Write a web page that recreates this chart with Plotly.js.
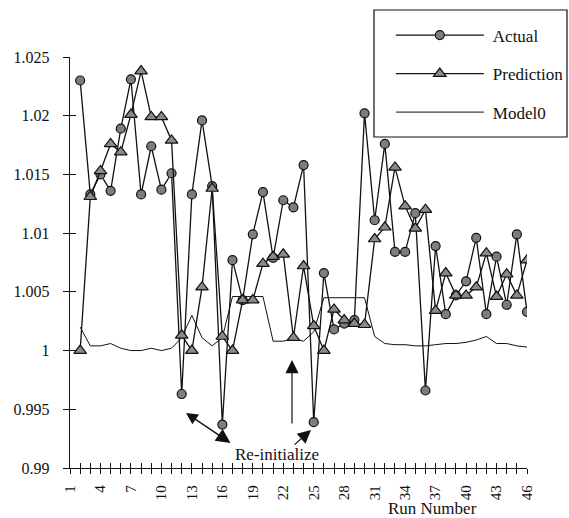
<!DOCTYPE html>
<html>
<head>
<meta charset="utf-8">
<script src="https://cdn.plot.ly/plotly-3.0.1.min.js"></script>
<style>
  html, body { margin: 0; padding: 0; background: #fff; }
  #chart { width: 569px; height: 518px; }
</style>
</head>
<body>
<div id="chart"></div>
<script>
// ---- data ----
const runs = [2,3,4,5,6,7,8,9,10,11,12,13,14,15,16,17,18,19,20,21,22,23,24,25,26,27,28,29,30,31,32,33,34,35,36,37,38,39,40,41,42,43,44,45,46];

const actual = [1.0230,1.0133,1.0150,1.0136,1.0189,1.0231,1.0133,1.0174,1.0137,1.0151,
                0.9963,1.0133,1.0196,1.0140,0.9937,1.0077,1.0043,1.0099,1.0135,1.0079,
                1.0128,1.0122,1.0158,0.9939,1.0066,1.0018,1.0023,1.0026,1.0202,1.0111,
                1.0176,1.0084,1.0084,1.0117,0.9966,1.0089,1.0031,1.0047,1.0059,1.0096,
                1.0031,1.0080,1.0039,1.0099,1.0033];

const prediction = [1.0000,1.0131,1.0153,1.0176,1.0169,1.0201,1.0238,1.0199,1.0199,1.0179,
                    1.0013,1.0000,1.0054,1.0138,1.0012,1.0000,1.0043,1.0043,1.0074,1.0080,
                    1.0082,1.0011,1.0072,1.0021,1.0000,1.0035,1.0026,1.0023,1.0022,1.0095,
                    1.0105,1.0156,1.0123,1.0104,1.0120,1.0034,1.0066,1.0047,1.0047,1.0054,
                    1.0083,1.0046,1.0065,1.0047,1.0077];

const model0 = [1.0020,1.0004,1.0004,1.0006,1.0002,1.0000,1.0000,1.0002,1.0000,1.0002,
                1.0011,1.0030,1.0011,1.0004,1.0011,1.0046,1.0046,1.0046,1.0046,1.0008,
                1.0008,1.0010,1.0008,1.0016,1.0045,1.0045,1.0045,1.0045,1.0045,1.0012,
                1.0006,1.0005,1.0005,1.0004,1.0004,1.0005,1.0006,1.0006,1.0007,1.0009,
                1.0012,1.0006,1.0006,1.0004,1.0003];

const seriesNames = ['Actual', 'Prediction', 'Model0'];

// tick labels
const xTickLabels = ['1','4','7','10','13','16','19','22','25','28','31','34','37','40','43','46'];
const yTickVals   = [0.99, 0.995, 1, 1.005, 1.01, 1.015, 1.02, 1.025];
const yTickLabels = ['0.99','0.995','1','1.005','1.01','1.015','1.02','1.025'];

const xFirst = 1, xLast = 46;
const xTickVals = [];
for (let r = xFirst; r <= xLast; r++) xTickVals.push(r);
const xTickText = xTickVals.map(r => xTickLabels.includes(String(r)) ? String(r) : '');

const FONT = '"Liberation Serif", "Times New Roman", serif';
const INK = '#111';

const traces = [
  {
    x: runs, y: actual, name: seriesNames[0], type: 'scatter', mode: 'lines+markers',
    xaxis: 'x2', yaxis: 'y2', legendgroup: 'a',
    line: {color: INK, width: 1.3},
    marker: {symbol: 'circle', size: 9, color: '#7d7d7d', line: {color: INK, width: 1.2}}
  },
  {
    x: runs, y: prediction, name: seriesNames[1], type: 'scatter', mode: 'lines+markers',
    xaxis: 'x2', yaxis: 'y2', legendgroup: 'b',
    line: {color: INK, width: 1.3},
    marker: {symbol: 'triangle-up', size: 11, color: '#8a8a8a', line: {color: INK, width: 1.2}}
  },
  {
    x: runs, y: model0, name: seriesNames[2], type: 'scatter', mode: 'lines',
    xaxis: 'x', yaxis: 'y', legendgroup: 'c',
    line: {color: INK, width: 1}
  }
];

const axisCommon = {
  range: [xFirst, xLast],
  tickmode: 'array', tickvals: xTickVals,
  ticklen: 5, tickwidth: 1.2, tickcolor: INK,
  zeroline: false, showgrid: false
};

const layout = {
  width: 569, height: 518,
  margin: {l: 70, r: 42, t: 57, b: 50, autoexpand: false},
  paper_bgcolor: '#fff', plot_bgcolor: '#fff',
  font: {family: FONT, color: INK},
  showlegend: true,
  xaxis: Object.assign({}, axisCommon, {
    ticktext: xTickText, ticks: 'outside', tickangle: -90,
    showline: true, linecolor: INK, linewidth: 1.4,
    tickfont: {family: FONT, size: 15, color: INK},
    ticklabelstandoff: 5, automargin: false
  }),
  xaxis2: Object.assign({}, axisCommon, {
    overlaying: 'x', matches: 'x', anchor: 'y2', ticks: 'inside',
    showticklabels: false, showline: false
  }),
  yaxis: {
    range: [0.99, 1.025], tickmode: 'array', tickvals: yTickVals, ticktext: yTickLabels,
    ticks: 'outside', ticklen: 6, tickwidth: 1.2, tickcolor: INK,
    showline: true, linecolor: INK, linewidth: 1.4,
    zeroline: false, showgrid: false,
    tickfont: {family: FONT, size: 16, color: INK},
    ticklabelstandoff: 10, automargin: false
  },
  yaxis2: {
    range: [0.99, 1.025], overlaying: 'y', matches: 'y', anchor: 'x2',
    tickmode: 'array', tickvals: yTickVals,
    ticks: 'inside', ticklen: 6, tickwidth: 1.2, tickcolor: INK,
    showticklabels: false, showline: false, zeroline: false, showgrid: false
  },
  legend: {
    x: 0.702, y: 1.096, xanchor: 'left', yanchor: 'top',
    bgcolor: 'rgba(0,0,0,0)', borderwidth: 0,
    font: {family: FONT, size: 17, color: INK},
    itemwidth: 92, tracegroupgap: 13.4, traceorder: 'grouped', valign: 'middle'
  },
  shapes: [
    {type: 'rect', xref: 'paper', yref: 'paper', x0: 0.6652, x1: 1.0875, y0: 0.8054, y1: 1.1144,
     line: {color: INK, width: 1.2}, fillcolor: '#fff', layer: 'above'}
  ],
  annotations: [
    {x: 21.38, y: 0.99111, xref: 'x', yref: 'y', text: 'Re-initialize', showarrow: false,
     font: {family: FONT, size: 17, color: INK}},
    {x: 12.42, y: 0.99469, ax: 16.95, ay: 0.99205, xref: 'x', yref: 'y', axref: 'x', ayref: 'y',
     text: '', showarrow: true, arrowhead: 2, startarrowhead: 2, arrowside: 'end+start',
     arrowsize: 1.8, startarrowsize: 2.2, arrowwidth: 1.3, arrowcolor: INK},
    {x: 22.86, y: 0.99920, ax: 22.86, ay: 0.99366, xref: 'x', yref: 'y', axref: 'x', ayref: 'y',
     text: '', showarrow: true, arrowhead: 2, arrowsize: 2.2, arrowwidth: 1.2, arrowcolor: INK},
    {x: 24.73, y: 0.99324, ax: 22.96, ay: 0.99188, xref: 'x', yref: 'y', axref: 'x', ayref: 'y',
     text: '', showarrow: true, arrowhead: 2, arrowsize: 2.2, arrowwidth: 1.2, arrowcolor: INK},
    // x-axis title placed under the right part of the axis, as in the reference
    {xref: 'paper', yref: 'paper', x: (432 - 70) / 457, y: -(508 - 468) / 411,
     xanchor: 'center', yanchor: 'middle', text: 'Run Number', showarrow: false,
     font: {family: FONT, size: 17, color: INK}}
  ]
};

Plotly.newPlot('chart', traces, layout, {displayModeBar: false, responsive: false}).then(gd => {
  // lengthen legend sample lines to match the reference
  gd.querySelectorAll('.legend .traces').forEach(g => {
    g.querySelectorAll('path.js-line').forEach(p => p.setAttribute('d', 'M5,0h88'));
    g.querySelectorAll('.legendpoints path.scatterpts').forEach(p => p.setAttribute('transform', 'translate(49,0)'));
  });
});
</script>
</body>
</html>
